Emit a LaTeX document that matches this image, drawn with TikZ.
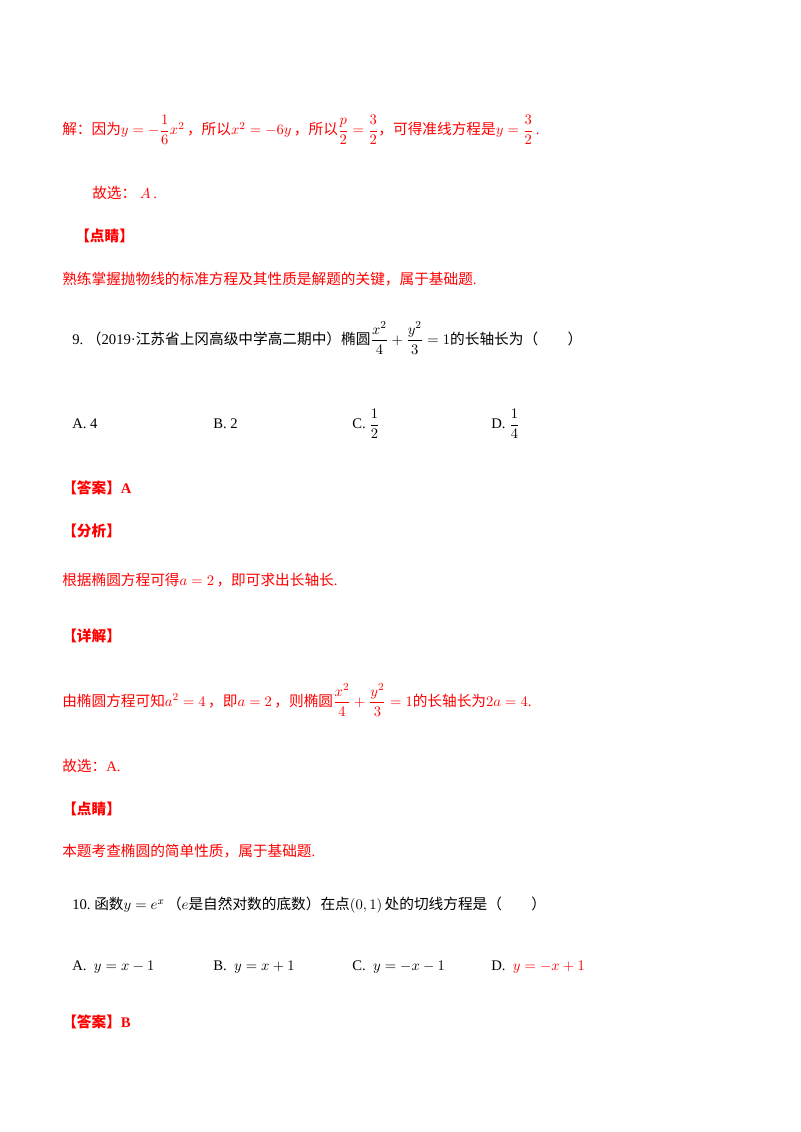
\documentclass[tikz,border=0pt]{standalone}
\usepackage{amsmath}
\usepackage{fontspec}
\setmainfont{Liberation Serif}
\newfontfamily\cjk{Noto Sans CJK SC}
\definecolor{rd}{RGB}{255,0,0}
\newcommand{\zh}[1]{{\cjk #1}}
\begin{document}
\begin{tikzpicture}[x=0.75pt,y=-0.75pt,
  t/.style={anchor=west,inner sep=0pt,font=\fontsize{11}{13}\selectfont},
  r/.style={t,text=rd},
  h/.style={t,text=rd,font=\fontsize{11}{13}\selectfont\bfseries}]
\useasboundingbox (0,0) rectangle (800,1132);
\node[r] (l1) at (62,130) {\zh{解：因为}$y=-\dfrac16x^2$\,\zh{，所以}$x^2=-6y$\,\zh{，所以}$\dfrac p2=\dfrac32$\zh{，可得准线方程是}$y=\dfrac32$\,.};
\node[r] (l2) at (92,193) {\zh{故选：}\ $A$\,.};
\node[h] (l3) at (75,236) {\zh{【点睛】}};
\node[r] (l4) at (62,279) {\zh{熟练掌握抛物线的标准方程及其性质是解题的关键，属于基础题}.};
\node[t] (q9) at (72,338) {9.\ \zh{（}2019·\zh{江苏省上冈高级中学高二期中）椭圆}$\dfrac{x^2}{4}+\dfrac{y^2}{3}=1$\zh{的长轴长为（\qquad）}};
\node[t] (a9) at (72,424) {A.\ 4};
\node[t] (b9) at (213,424) {B.\ 2};
\node[t] (c9) at (352,424) {C.\ $\dfrac12$};
\node[t] (d9) at (491,424) {D.\ $\dfrac14$};
\node[h] (ans9) at (62,488) {\zh{【答案】}A};
\node[h] (fx) at (62,531) {\zh{【分析】}};
\node[r] (fx1) at (62,580) {\zh{根据椭圆方程可得}$a=2$\,\zh{，即可求出长轴长}.};
\node[h] (xj) at (62,636) {\zh{【详解】}};
\node[r] (xj1) at (62,700) {\zh{由椭圆方程可知}$a^2=4$\,\zh{，即}$a=2$\,\zh{，则椭圆}$\dfrac{x^2}{4}+\dfrac{y^2}{3}=1$\zh{的长轴长为}$2a=4$.};
\node[r] (gx) at (62,766) {\zh{故选：}A.};
\node[h] (dj) at (62,809) {\zh{【点睛】}};
\node[r] (dj1) at (62,851) {\zh{本题考查椭圆的简单性质，属于基础题}.};
\node[t] (q10) at (72,905) {10.\ \zh{函数}$y=e^x$\,\zh{（}$e$\zh{是自然对数的底数）在点}$(0,1)$\,\zh{处的切线方程是（\qquad）}};
\node[t] (a10) at (72,967) {A.\ \ $y=x-1$};
\node[t] (b10) at (213,967) {B.\ \ $y=x+1$};
\node[t] (c10) at (352,967) {C.\ \ $y=-x-1$};
\node[t] (d10) at (491,967) {D.\ \ \textcolor{rd}{$y=-x+1$}};
\node[h] (ans10) at (62,1022) {\zh{【答案】}B};
\end{tikzpicture}
\end{document}
